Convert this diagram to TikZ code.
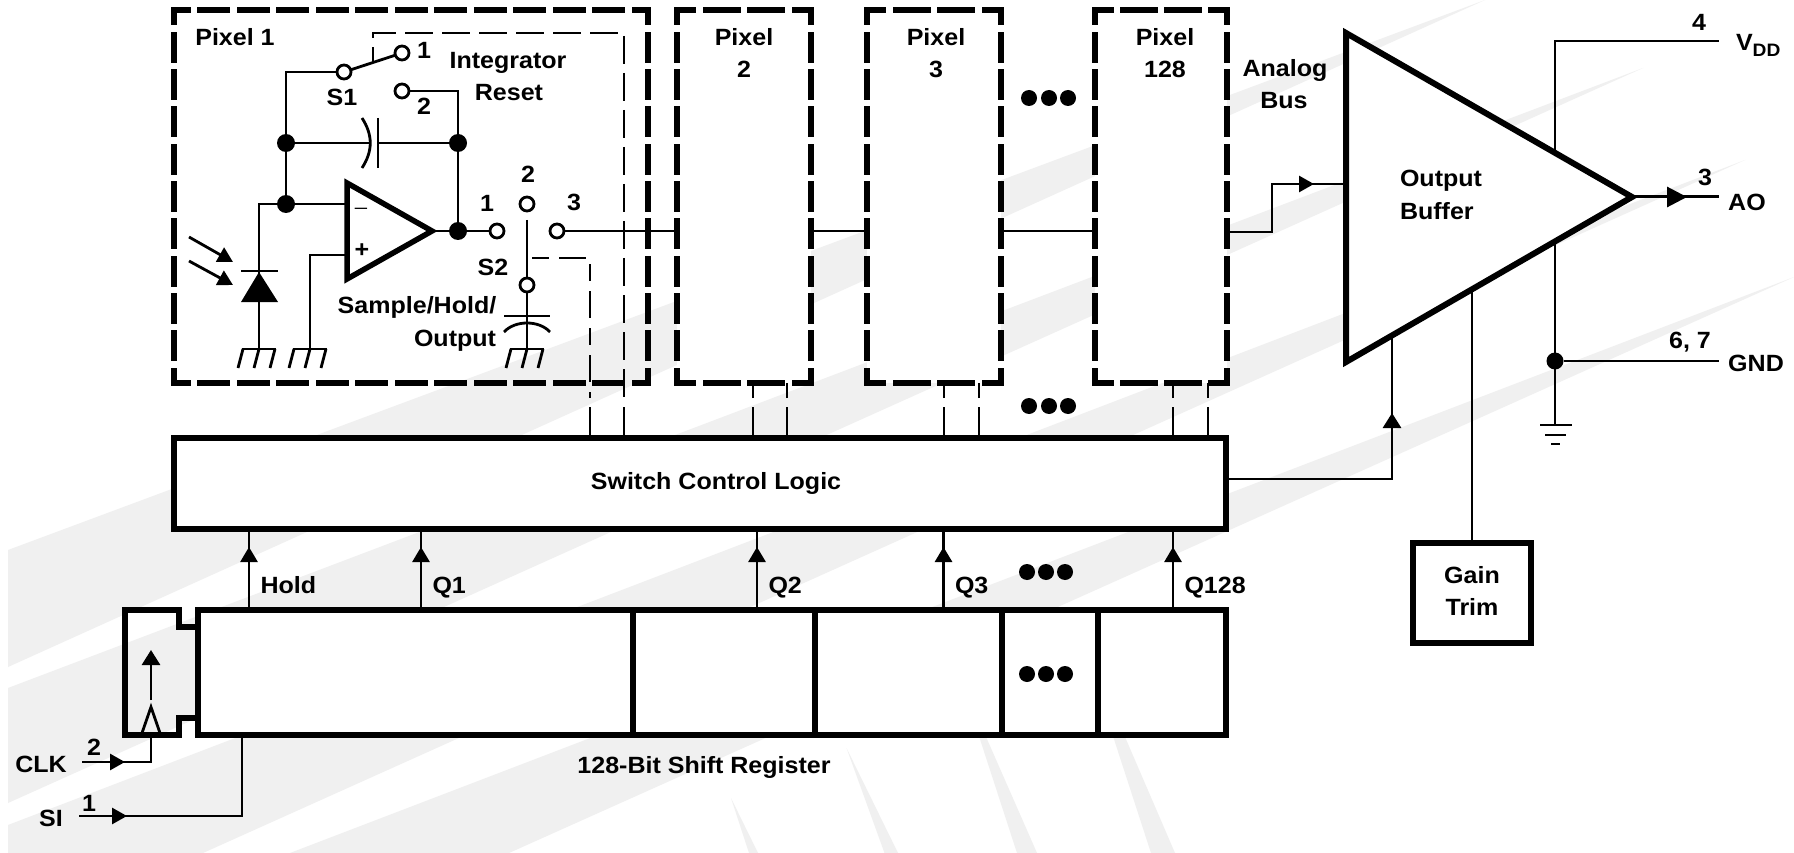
\documentclass[tikz,border=0pt]{standalone}
\usepackage{fontspec}
\setmainfont{Liberation Sans}[FakeStretch=1.065]
\usetikzlibrary{arrows.meta,calc}
\definecolor{wm}{HTML}{F0F0F0}
\tikzset{
  wire/.style={line width=2.8pt,line cap=butt},
  heavy/.style={line width=5.5pt,line join=miter},
  lbl/.style={inner sep=0pt,outer sep=0pt,text height=16.8pt,text depth=0pt,font=\fontsize{23.5}{24}\selectfont\bfseries,text=black},
  blockbox/.style={draw=black,fill=white,line width=5.5pt,inner sep=0pt,outer sep=0pt},
  pixfill/.style={inner sep=0pt,outer sep=0pt},
  hole/.style={circle,draw=black,fill=white,line width=2.8pt,minimum size=14pt,inner sep=0pt,outer sep=0pt},
  junction/.style={circle,fill=black,minimum size=18pt,inner sep=0pt,outer sep=0pt},
  bigdot/.style={circle,fill=black,minimum size=16pt,inner sep=0pt,outer sep=0pt},
  ctrl/.style={line width=2.8pt},
  ctrldash/.style={line width=2.8pt,dash pattern=on 28pt off 9pt},
  arrowup/.style={line width=2.8pt,-{Triangle[length=15pt,width=17pt]}},
  arrowrt/.style={line width=2.8pt,-{Triangle[length=15pt,width=16pt]}},
}
\newcommand{\dashedbox}[3]{%
  \draw[line width=5.5pt,line cap=rect,dash pattern=on #2pt off 12pt,dash phase=#3pt]
    (#1.north west) -- (#1.north east);
  \draw[line width=5.5pt,line cap=rect,dash pattern=on #2pt off 12pt,dash phase=#3pt]
    (#1.south west) -- (#1.south east);
  \draw[line width=5.5pt,line cap=rect,dash pattern=on 25.3pt off 12pt,dash phase=12.65pt]
    (#1.north west) -- (#1.south west);
  \draw[line width=5.5pt,line cap=rect,dash pattern=on 25.3pt off 12pt,dash phase=12.65pt]
    (#1.north east) -- (#1.south east);}
\newcommand{\gndhatch}[1]{%
  \draw[wire] (#1|-gh) ++(-17,0) -- ++(34,0);
  \draw[wire] (#1|-gh) ++(-16,0) -- ++(-5,19);
  \draw[wire] (#1|-gh) -- ++(-5,19);
  \draw[wire] (#1|-gh) ++(16,0) -- ++(-5,19);}
\newcommand{\stubs}[3]{%
  \coordinate (#1a) at (#2,0); \coordinate (#1b) at (#3,0);
  \foreach \s in {a,b}{
    \draw[ctrl] (#1\s|-sw.north) -- (#1\s|-gaplow);
    \draw[ctrl] (#1\s|-gaphigh) -- (#1\s|-#1.south);}}
\newcommand{\qsignal}[3]{%
  \coordinate (#1) at (#2,0);
  \draw[wire] (#1|-sr.north) -- (#1|-sw.south);
  \draw[arrowup] (#1|-sr.north) -- (#1|-qtip);
  \node[lbl,anchor=west] (#1label) at ($(#1|-qlab)+(11.5,0)$) {#3};}
\begin{document}
\begin{tikzpicture}[x=1pt,y=-1pt]
\useasboundingbox (0,0) rectangle (1794,853);
\fill[white] (0,0) rectangle (1794,853);
% watermark
\fill[wm] (8,550) -- (1485,0) -- (8,667) -- cycle;
\fill[wm] (8,688) -- (1643,68) -- (8,803) -- cycle;
\fill[wm] (8,825) -- (1745,160) -- (203,853) -- (8,853) -- cycle;
\fill[wm] (290,853) -- (1794,277) -- (509,853) -- cycle;
\fill[wm] (731,798) -- (758,853) -- (749,853) -- cycle;
\fill[wm] (846.5,748) -- (898,853) -- (884.5,853) -- cycle;
\fill[wm] (977,730) -- (983,730) -- (1037,853) -- (1017,853) -- cycle;
\fill[wm] (1111,730) -- (1122,730) -- (1175,853) -- (1151,853) -- cycle;

\coordinate (gaplow) at (0,407);
\coordinate (gaphigh) at (0,398);
\coordinate (qtip) at (0,547);
\coordinate (qlab) at (0,585);
\coordinate (gh) at (0,349);

% pixel boxes
\node[pixfill,minimum width=474pt,minimum height=373pt] (p1) at (411,196.5) {};
\node[pixfill,fill=white,minimum width=134pt,minimum height=373pt] (p2) at (744,196.5) {};
\node[pixfill,fill=white,minimum width=134pt,minimum height=373pt] (p3) at (934,196.5) {};
\node[pixfill,fill=white,minimum width=132pt,minimum height=373pt] (p128) at (1161,196.5) {};
\dashedbox{p1}{27.5}{13.75}
\dashedbox{p2}{32.67}{16.33}
\dashedbox{p3}{32.67}{16.33}
\dashedbox{p128}{32}{16}

% main blocks
\node[blockbox,minimum width=1052pt,minimum height=91pt] (sw) at (700,483.5) {};
\node[blockbox,minimum width=1028pt,minimum height=125pt] (sr) at (712,672.5) {};
\node[blockbox,minimum width=118pt,minimum height=100pt] (gain) at (1472,593) {};
\foreach \x in {633,815,1002,1098}{
  \draw[heavy] (\x,610) -- (\x,735);}
\draw[heavy,line join=miter] (198,627) -- (179,627) -- (179,610) -- (125,610) -- (125,735) -- (179,735) -- (179,718) -- (198,718);
\node[lbl] (swtext) at (716,481) {Switch Control Logic};
\node[lbl] (srtext) at (704,765) {128-Bit Shift Register};
\node[lbl] (gain1) at (1472,575) {Gain};
\node[lbl] (gain2) at (1472,607) {Trim};

% pixel labels
\node[lbl] (t1) at (235,37) {Pixel 1};
\node[lbl] (t2a) at (744,37) {Pixel};
\node[lbl] (t2b) at (744,69) {2};
\node[lbl] (t3a) at (936,37) {Pixel};
\node[lbl] (t3b) at (936,69) {3};
\node[lbl] (t4a) at (1165,37) {Pixel};
\node[lbl] (t4b) at (1165,69) {128};

% switch S1 and integrator
\node[hole] (s1c) at (344,72) {};
\node[hole] (s1a) at (402,53) {};
\node[hole] (s1b) at (402,91) {};
\node[junction] (ja) at (286,143) {};
\node[junction] (jb) at (458,143) {};
\node[junction] (jc) at (286,204) {};
\node[junction] (jd) at (458,231) {};
\draw[wire] (s1c) -- (s1a);
\draw[wire] (s1c.west) -| (ja);
\draw[wire] (s1b.east) -| (jb);
\draw[wire] (ja) -- (jc);
\draw[wire] (jb) -- (jd);
\draw[wire] (ja) -- (370,143);
\draw[wire] (378,143) -- (jb);
\draw[wire] (378,118) -- (378,168);
\draw[wire] (362,118) .. controls (373,135) and (373,151) .. (362,168);
\node[lbl] (ln1) at (424,50) {1};
\node[lbl] (ln2) at (424,106) {2};
\node[lbl] (ls1) at (342,97) {S1};
\node[lbl] (lint) at (508,60) {Integrator};
\node[lbl] (lres) at (509,92) {Reset};

% control lines
\coordinate (sa) at (373,62);
\coordinate (sb) at (373,33);
\coordinate (sc) at (624,33);
\coordinate (sd) at (624,398);
\coordinate (se) at (624,407);
\draw[ctrl] (sw.north-|se) -- (se);
\draw[ctrldash,dash phase=13pt] (sa) -- (sb) -- (sc) -- (sd);
\coordinate (ta) at (532,258);
\coordinate (tb) at (590,258);
\coordinate (tc) at (590,398);
\coordinate (td) at (590,407);
\draw[ctrl] (sw.north-|td) -- (td);
\draw[ctrldash,dash pattern=on 17pt off 10pt on 27pt off 10pt] (ta) -- (tb) -- (tc);

% op amp
\coordinate (oa) at (347,183);
\coordinate (ob) at (347,279);
\coordinate (oc) at (432,231);
\draw[heavy] (oa) -- (ob) -- (oc) -- cycle;
\node[lbl,text height=0pt,font=\fontsize{20}{20}\selectfont] (om) at (361,206) {\_};
\node[lbl] (op) at (362,249) {+};
\draw[wire] (jc) -- (jc-|oa);
\draw[wire] (jc) -- (259,204) coordinate (dt) -- (259,349) coordinate (dg);
\coordinate (pin) at (347,255);
\coordinate (pg) at (310,349);
\draw[wire] (pin) -- (pin-|pg) -- (pg);
\draw[wire] (oc) -- (jd);

% photodiode
\fill[black] (259,272) -- (278,302) -- (241,302) -- cycle;
\draw[wire] (241,271) -- (278,271);
\draw[arrowrt,-{Triangle[length=15pt,width=16pt]}] (189,237) -- (233,262);
\draw[arrowrt,-{Triangle[length=15pt,width=16pt]}] (189,261) -- (233,285);
\gndhatch{dg}
\gndhatch{pg}

% switch S2
\node[hole] (s2a) at (497,231) {};
\node[hole] (s2b) at (527,204) {};
\node[hole] (s2d) at (557,231) {};
\node[hole] (s2c) at (527,285) {};
\draw[wire] (jd) -- (s2a);
\draw[wire] (s2d) -- (s2d-|p2.west);
\coordinate (wip) at (527,220);
\draw[wire] (wip) -- (s2c);
\coordinate (hg) at (527,349);
\draw[wire] (s2c) -- (hg);
\draw[wire] (504,316) -- (550,316);
\draw[wire] (504,332) .. controls (515,320) and (539,320) .. (550,332);
\gndhatch{hg}
\node[lbl] (l21) at (487,203) {1};
\node[lbl] (l22) at (528,174) {2};
\node[lbl] (l23) at (574,202) {3};
\node[lbl] (ls2) at (493,267) {S2};
\node[lbl] (lsh) at (417,305) {Sample/Hold/};
\node[lbl] (lout) at (455,338) {Output};

% pixel interconnect
\draw[wire] (p2.east|-s2d) -- (p3.west|-s2d);
\draw[wire] (p3.east|-s2d) -- (p128.west|-s2d);
\coordinate (ab1) at (1272,232);
\coordinate (ab2) at (1272,184);
\coordinate (bufl) at (1346,184);
\draw[wire] (p128.east|-ab1) -- (ab1) -- (ab2) -- (bufl);
\coordinate (abt) at (1314,184);
\draw[arrowrt] (ab2) -- (abt);
\node[lbl] (lana) at (1285,68) {Analog};
\node[lbl] (lbus) at (1284,100) {Bus};

% control stubs
\stubs{p2}{753}{787}
\stubs{p3}{944}{979}
\stubs{p128}{1173}{1208}

% dots
\foreach \x/\n in {1029/a,1049/b,1068/c}{
  \node[bigdot] (da\n) at (\x,98) {};
  \node[bigdot] (db\n) at (\x,406) {};}
\foreach \x/\n in {1027/a,1046/b,1065/c}{
  \node[bigdot] (dc\n) at (\x,572) {};
  \node[bigdot] (dd\n) at (\x,674) {};}

% shift register to logic
\qsignal{qh}{249}{Hold}
\qsignal{qa}{421}{Q1}
\qsignal{qb}{757}{Q2}
\qsignal{qc}{943.5}{Q3}
\qsignal{qd}{1173}{Q128}

% clock and serial in
\coordinate (ck) at (151,735);
\coordinate (ckl) at (82,762);
\coordinate (ckt) at (125,762);
\draw[wire] (ckl) -- (ckl-|ck) -- (ck);
\draw[arrowrt] (ckl) -- (ckt);
\node[lbl] (lclk) at (41,764) {CLK};
\node[lbl] (lclkn) at (94,747) {2};
\coordinate (sil) at (79,816);
\coordinate (sit) at (127,816);
\coordinate (sir) at (242,816);
\draw[wire] (sil) -- (sir) -- (sir|-sr.south);
\draw[arrowrt] (sil) -- (sit);
\node[lbl] (lsi) at (51,818) {SI};
\node[lbl] (lsin) at (89,803) {1};
\coordinate (ia) at (151,700);
\coordinate (ib) at (151,650);
\draw[wire,-{Triangle[length=15pt,width=18pt]}] (ia) -- (ib);
\draw[wire] (142,733) -- (151,707) -- (160,733);

% output buffer
\coordinate (ba) at (1346,33);
\coordinate (bb) at (1346,362);
\coordinate (bc) at (1632,197);
\coordinate (cs) at (1226,479);
\coordinate (cb) at (1392,479);
\coordinate (ce) at (1392,337);
\coordinate (cu) at (1392,413);
\draw[wire] (cs) -- (cb) -- (ce);
\draw[arrowup,-{Triangle[length=15pt,width=18pt]}] (cb) -- (cu);
\coordinate (gu) at (1472,291);
\draw[wire] (gain.north) -- (gu);
\coordinate (vb) at (1555,150);
\coordinate (vt) at (1555,41);
\coordinate (vr) at (1719,41);
\draw[wire] (vb) -- (vt) -- (vr);
\coordinate (gu2) at (1555,243);
\coordinate (gt) at (1555,425);
\draw[wire] (gu2) -- (gt);
\node[junction,minimum size=17pt] (je) at (1555,361) {};
\coordinate (gr) at (1719,361);
\draw[wire] (je) -- (gr);
\draw[wire] (1540,425) -- (1572,425);
\draw[wire] (1545,435) -- (1566,435);
\draw[wire] (1551,444) -- (1560,444);
\draw[heavy,fill=white,line width=6pt] (ba) -- (bb) -- (bc) -- cycle;
\coordinate (aor) at (1719,197);
\coordinate (aot) at (1687,197);
\draw[line width=3pt] (bc) -- (aor);
\draw[line width=3pt,-{Triangle[length=20pt,width=20pt]}] (bc) -- (aot);
\node[lbl,anchor=west] (lob) at (1400,178) {Output};
\node[lbl,anchor=west] (lbb) at (1400,211) {Buffer};
\node[lbl] (l4) at (1699,22) {4};
\node[lbl,anchor=west] (lvdd) at (1736,42) {V\raisebox{-6pt}{\fontsize{18}{18}\selectfont\bfseries DD}};
\node[lbl] (l3) at (1705,177) {3};
\node[lbl] (lao) at (1747,202) {AO};
\node[lbl] (l67) at (1690,340) {6, 7};
\node[lbl] (lgnd) at (1756,363) {GND};
\end{tikzpicture}
\end{document}
